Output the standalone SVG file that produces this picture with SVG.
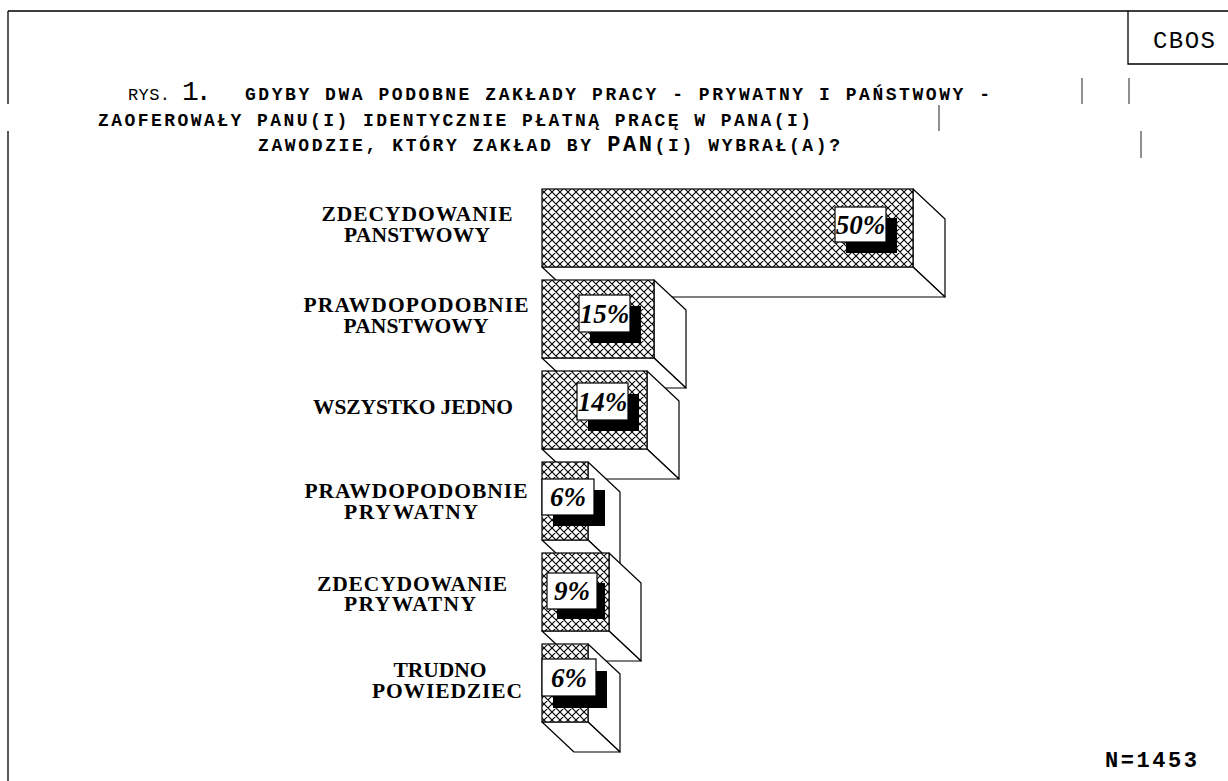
<svg xmlns="http://www.w3.org/2000/svg" width="1228" height="781" viewBox="0 0 1228 781">
<defs>
<pattern id="hatch" patternUnits="userSpaceOnUse" width="8" height="8">
<rect width="8" height="8" fill="#fff"/>
<path d="M0,0 L8,8 M8,0 L0,8 M-1,7 L1,9 M7,-1 L9,1 M-1,1 L1,-1 M7,9 L9,7" stroke="#000" stroke-width="1.1"/>
</pattern>
</defs>
<style>
.frame{stroke:#000;stroke-width:1.3;fill:none}
.tick{stroke:#555;stroke-width:1.3}
.title{font-family:"Liberation Mono","Courier New",monospace;font-weight:bold;font-size:18px;fill:#000}
.titlen{font-family:"Liberation Mono","Courier New",monospace;font-weight:normal;fill:#000}
.lab{font-family:"Liberation Serif","Times New Roman",serif;font-weight:bold;font-size:21.5px;fill:#000;text-anchor:middle}
.pct{font-family:"Liberation Serif","Times New Roman",serif;font-weight:bold;font-style:italic;font-size:27px;fill:#000;text-anchor:middle}
.front{fill:url(#hatch);stroke:#000;stroke-width:1.2}
.side{fill:#fff;stroke:#000;stroke-width:1.2;stroke-linejoin:round}
.box{fill:#fff;stroke:#000;stroke-width:1.2}
.shadow{fill:#000}
.n{font-family:"Liberation Mono","Courier New",monospace;font-weight:bold;font-size:22px;fill:#000}
</style>
<rect width="1228" height="781" fill="#fff"/>
<g id="frame">
<path class="frame" d="M8,11 H1228 M8,11 V104 M8,131 V781"/>
<path class="frame" d="M1128,11 V64 H1228"/>
<path class="tick" d="M1082,78 V104 M1129,78 V104 M939,105 V131 M1141,131 V158"/>
<text class="titlen" x="1184" y="48" font-size="24" text-anchor="middle" textLength="62">CBOS</text>
</g>
<g id="title">
<text class="titlen" x="128" y="100" font-size="17" textLength="42">RYS.</text>
<text class="titlen" x="182" y="100" font-size="28" textLength="30">1.</text>
<text class="title" x="245" y="100" textLength="745">GDYBY DWA PODOBNE ZAKŁADY PRACY - PRYWATNY I PAŃSTWOWY -</text>
<text class="title" x="98" y="126" textLength="713">ZAOFEROWAŁY PANU(I) IDENTYCZNIE PŁATNĄ PRACĘ W PANA(I)</text>
<text class="title" x="258" y="151" textLength="582">ZAWODZIE, KTÓRY ZAKŁAD BY <tspan font-size="22">PAN</tspan>(I) WYBRAŁ(A)?</text>
</g>
<g id="labels">
<text class="lab" x="417" y="221" textLength="191">ZDECYDOWANIE</text>
<text class="lab" x="417" y="242" textLength="146">PANSTWOWY</text>
<text class="lab" x="416" y="312" textLength="225">PRAWDOPODOBNIE</text>
<text class="lab" x="416" y="333" textLength="145">PANSTWOWY</text>
<text class="lab" x="413" y="414" textLength="200">WSZYSTKO JEDNO</text>
<text class="lab" x="416" y="498" textLength="223">PRAWDOPODOBNIE</text>
<text class="lab" x="411" y="519" textLength="134">PRYWATNY</text>
<text class="lab" x="412" y="591" textLength="190">ZDECYDOWANIE</text>
<text class="lab" x="410" y="611" textLength="132">PRYWATNY</text>
<text class="lab" x="440" y="677">TRUDNO</text>
<text class="lab" x="447" y="698" textLength="150">POWIEDZIEC</text>
</g>
<g id="bar1">
<polygon class="side" points="913,189 945,219 945,297 913,267"/>
<polygon class="side" points="542,267 913,267 945,297 574,297"/>
<rect class="front" x="542" y="189" width="371" height="78"/>
<rect class="shadow" x="846" y="218" width="51" height="35"/>
<rect class="box" x="835" y="207" width="51" height="35"/>
<text class="pct" x="860.5" y="234">50%</text>
</g>
<g id="bar2">
<polygon class="side" points="654,280 686,310 686,388 654,358"/>
<polygon class="side" points="542,358 654,358 686,388 574,388"/>
<rect class="front" x="542" y="280" width="112" height="78"/>
<rect class="shadow" x="590" y="306" width="51" height="37"/>
<rect class="box" x="579" y="295" width="51" height="37"/>
<text class="pct" x="604.5" y="323">15%</text>
</g>
<g id="bar3">
<polygon class="side" points="647,371 679,401 679,479 647,449"/>
<polygon class="side" points="542,449 647,449 679,479 574,479"/>
<rect class="front" x="542" y="371" width="105" height="78"/>
<rect class="shadow" x="588" y="394" width="51" height="37"/>
<rect class="box" x="577" y="383" width="51" height="37"/>
<text class="pct" x="602.5" y="411">14%</text>
</g>
<g id="bar4">
<polygon class="side" points="588,462 620,492 620,570 588,540"/>
<polygon class="side" points="542,540 588,540 620,570 574,570"/>
<rect class="front" x="542" y="462" width="46" height="78"/>
<rect class="shadow" x="553" y="490" width="52" height="36"/>
<rect class="box" x="542" y="479" width="52" height="36"/>
<text class="pct" x="568" y="506">6%</text>
</g>
<g id="bar5">
<polygon class="side" points="609,553 641,583 641,661 609,631"/>
<polygon class="side" points="542,631 609,631 641,661 574,661"/>
<rect class="front" x="542" y="553" width="67" height="78"/>
<rect class="shadow" x="557" y="583" width="48" height="36"/>
<rect class="box" x="547" y="573" width="50" height="36"/>
<text class="pct" x="572" y="600">9%</text>
</g>
<g id="bar6">
<polygon class="side" points="588,644 620,674 620,752 588,722"/>
<polygon class="side" points="542,722 588,722 620,752 574,752"/>
<rect class="front" x="542" y="644" width="46" height="78"/>
<rect class="shadow" x="553" y="671" width="54" height="37"/>
<rect class="box" x="542" y="659" width="54" height="37"/>
<text class="pct" x="569" y="687">6%</text>
</g>
<g id="connectors"></g>
<text class="n" x="1105" y="767" textLength="92">N=1453</text>
</svg>
